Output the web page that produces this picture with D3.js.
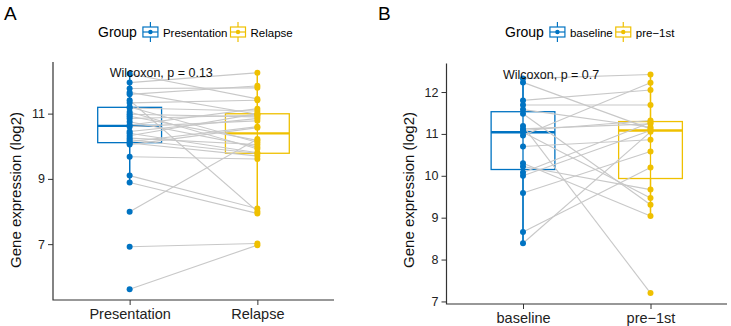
<!DOCTYPE html>
<html>
<head>
<meta charset="utf-8">
<script src="https://cdn.jsdelivr.net/npm/d3@7"></script>
<style>
  body { margin: 0; background: #fff; }
  svg { display: block; font-family: "Liberation Sans", Arial, sans-serif; }
</style>
</head>
<body>
<svg id="chart" width="731" height="326"></svg>
<script>
// Panel A: paired samples, Presentation -> Relapse (same index = same patient)
var groupsA = ["Presentation", "Relapse"];
var presentation = [12.22, 11.95, 11.77, 11.65, 11.59, 11.41, 11.33, 11.20, 11.17, 11.05,
                    10.98, 10.92, 10.85, 10.75, 10.65, 10.60, 10.45, 10.40, 10.32, 10.25,
                    10.20, 10.14, 10.10, 10.05, 9.68, 9.10, 8.89, 7.99, 6.92, 5.62];
var relapse      = [11.45, 12.25, 11.79, 10.98, 11.85, 8.00, 11.41, 10.12, 11.08, 9.92,
                    10.90, 10.18, 10.95, 9.98, 11.15, 10.78, 10.85, 9.80, 11.00, 10.05,
                    9.78, 10.60, 9.70, 10.57, 9.61, 8.09, 7.94, 10.22, 7.02, 6.97];
var ticksA = [7, 9, 11];
var pLabelA = "Wilcoxon, p = 0.13";

// Panel B: paired samples, baseline -> pre-1st
var groupsB = ["baseline", "pre\u22121st"];
var baseline = [12.32, 12.23, 11.80, 11.69, 11.58, 11.48, 11.19, 11.12, 11.08, 11.04,
                10.96, 10.70, 10.30, 10.22, 10.08, 10.00, 9.59, 8.66, 8.39];
var pre1st   = [12.42, 11.12, 12.05, 11.69, 11.16, 9.31, 7.20, 11.24, 11.32, 9.47,
                12.22, 10.86, 9.04, 9.67, 11.27, 11.08, 10.58, 10.20, 11.05];
var ticksB = [7, 8, 9, 10, 11, 12];
var pLabelB = "Wilcoxon, p = 0.7";

var colors = ["#0073C2", "#EFC000"];
var lineGrey = "#c8c8c8";

var svg = d3.select("#chart");

function boxStats(vals) {
  var s = vals.slice().sort(d3.ascending);
  var q1 = d3.quantile(s, 0.25), med = d3.quantile(s, 0.5), q3 = d3.quantile(s, 0.75);
  var iqr = q3 - q1;
  var lo = d3.min(s.filter(function(v) { return v >= q1 - 1.5 * iqr; }));
  var hi = d3.max(s.filter(function(v) { return v <= q3 + 1.5 * iqr; }));
  return {q1: q1, med: med, q3: q3, lo: lo, hi: hi};
}

function drawPanel(cfg) {
  var g = svg.append("g");
  var series = cfg.series;
  var all = series[0].concat(series[1]);
  var mn = d3.min(all), mx = d3.max(all), pad = (mx - mn) * 0.05;

  var x = d3.scalePoint().domain(cfg.groups).range([cfg.left, cfg.right]).padding(0.6);
  var y = d3.scaleLinear().domain([mn - pad, mx + pad]).range([cfg.bottom, cfg.top]);
  var boxW = x.step() * 0.5;

  // panel letter
  g.append("text").attr("x", cfg.letterX).attr("y", 20)
    .style("font-size", "19px").text(cfg.letter);

  // legend
  var leg = g.append("g").attr("transform", "translate(" + cfg.legendX + ",32)");
  var gt = leg.append("text").attr("y", 5).style("font-size", "14px").text("Group");
  var cx = gt.node().getComputedTextLength() + 6;
  cfg.groups.forEach(function(name, i) {
    var k = leg.append("g").attr("transform", "translate(" + cx + ",0)");
    k.append("line").attr("x1", 7.5).attr("x2", 7.5).attr("y1", -10).attr("y2", 10)
      .attr("stroke", colors[i]).attr("stroke-width", 1.2);
    k.append("rect").attr("x", 0).attr("y", -5).attr("width", 15).attr("height", 10)
      .attr("fill", "#fff").attr("stroke", colors[i]).attr("stroke-width", 1.2);
    k.append("line").attr("x1", 0).attr("x2", 15).attr("y1", 0).attr("y2", 0)
      .attr("stroke", colors[i]).attr("stroke-width", 1.2);
    k.append("circle").attr("cx", 7.5).attr("cy", 0).attr("r", 2.2).attr("fill", colors[i]);
    var t = leg.append("text").attr("x", cx + 20).attr("y", 4.5)
      .style("font-size", "11.5px").text(name);
    cx += 20 + t.node().getComputedTextLength() + 3;
  });

  // boxes
  series.forEach(function(vals, i) {
    var s = boxStats(vals), xc = x(cfg.groups[i]);
    var b = g.append("g").attr("stroke", colors[i]).attr("stroke-width", 1.3);
    b.append("line").attr("x1", xc).attr("x2", xc).attr("y1", y(s.hi)).attr("y2", y(s.q3));
    b.append("line").attr("x1", xc).attr("x2", xc).attr("y1", y(s.q1)).attr("y2", y(s.lo));
    b.append("rect").attr("x", xc - boxW / 2).attr("width", boxW)
      .attr("y", y(s.q3)).attr("height", y(s.q1) - y(s.q3)).attr("fill", "#fff");
    b.append("line").attr("x1", xc - boxW / 2).attr("x2", xc + boxW / 2)
      .attr("y1", y(s.med)).attr("y2", y(s.med)).attr("stroke-width", 2.4);
  });

  // paired lines
  g.append("g").selectAll("line").data(d3.zip(series[0], series[1])).join("line")
    .attr("x1", x(cfg.groups[0])).attr("x2", x(cfg.groups[1]))
    .attr("y1", function(d) { return y(d[0]); })
    .attr("y2", function(d) { return y(d[1]); })
    .attr("stroke", lineGrey).attr("stroke-width", 1.1);

  // whiskers over the lines, then points
  series.forEach(function(vals, i) {
    var s = boxStats(vals), xc = x(cfg.groups[i]);
    g.append("line").attr("x1", xc).attr("x2", xc).attr("y1", y(s.hi)).attr("y2", y(s.lo))
      .attr("stroke", colors[i]).attr("stroke-width", 1.3);
    g.append("g").selectAll("circle").data(vals).join("circle")
      .attr("cx", xc).attr("cy", function(d) { return y(d); })
      .attr("r", 3).attr("fill", colors[i]);
  });

  // axes
  var ya = g.append("g").attr("transform", "translate(" + cfg.left + ",0)")
    .call(d3.axisLeft(y).tickValues(cfg.ticks).tickSize(5).tickPadding(3).tickFormat(d3.format("d")));
  var xa = g.append("g").attr("transform", "translate(0," + cfg.bottom + ")")
    .call(d3.axisBottom(x).tickSize(5).tickPadding(4));
  [ya, xa].forEach(function(a) {
    a.select(".domain").attr("d", null);
    a.selectAll(".tick line").attr("stroke", "#333");
    a.selectAll("text").attr("fill", "#222");
  });
  ya.selectAll("text").style("font-size", "12.5px");
  xa.selectAll("text").style("font-size", "14.5px");
  g.append("path")
    .attr("d", "M" + cfg.left + "," + cfg.top + "V" + cfg.bottom + "H" + cfg.right)
    .attr("fill", "none").attr("stroke", "#333").attr("stroke-width", 1.2);

  // y title
  g.append("text")
    .attr("transform", "translate(" + cfg.titleX + ",190) rotate(-90)")
    .attr("text-anchor", "middle").style("font-size", "15px").attr("fill", "#111")
    .text("Gene expression (log2)");

  // test label
  g.append("text").attr("x", x(cfg.groups[0]) - 20).attr("y", cfg.pY)
    .style("font-size", "12.5px").attr("fill", "#111").text(cfg.pLabel);
}

drawPanel({
  letter: "A", letterX: 4, legendX: 98,
  groups: groupsA, series: [presentation, relapse], ticks: ticksA,
  left: 53, right: 334, top: 62, bottom: 300,
  titleX: 21, pLabel: pLabelA, pY: 77
});

drawPanel({
  letter: "B", letterX: 378, legendX: 505,
  groups: groupsB, series: [baseline, pre1st], ticks: ticksB,
  left: 446.5, right: 727, top: 63.5, bottom: 304,
  titleX: 414, pLabel: pLabelB, pY: 79
});
</script>
</body>
</html>
